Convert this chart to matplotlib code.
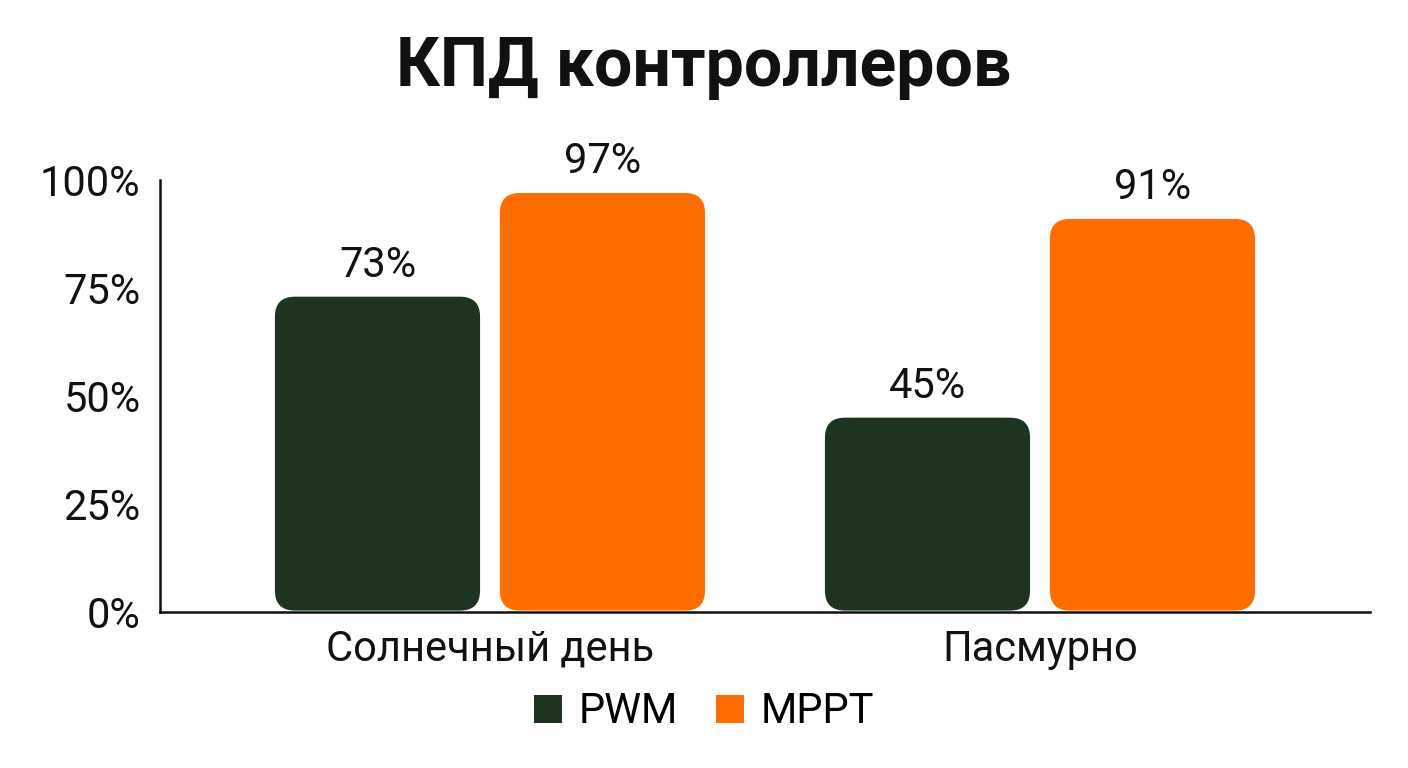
"""Controller efficiency bar chart"""

import matplotlib

matplotlib.use("Agg")
import matplotlib.pyplot as plt
from matplotlib.patches import FancyBboxPatch, Patch
import numpy as np

categories = ["Солнечный день", "Пасмурно"]
series_names = ["PWM", "MPPT"]
pwm_values = [73, 45]
mppt_values = [97, 91]
y_ticks = [0, 25, 50, 75, 100]
y_tick_labels = ["0%", "25%", "50%", "75%", "100%"]

colors = ["#1f3321", "#ff6d00"]

plt.rcParams["font.family"] = ["Roboto", "DejaVu Sans"]

fig = plt.figure(figsize=(14.08, 7.68), dpi=100)
ax = fig.add_axes([0.1136, 0.203, 0.8594, 0.5626])

x = np.arange(len(categories))
width = 0.373
offset = 0.2045

bars = []
for i, (vals, name) in enumerate(zip([pwm_values, mppt_values], series_names)):
    b = ax.bar(x + (i * 2 - 1) * offset, vals, width, color=colors[i], label=name)
    bars.append(b)

ax.set_xlim(-0.6, 1.6)
ax.set_ylim(0, 100)

# swap plain rectangles for rounded ones
x_per_px = 2.2 / 1210
y_per_px = 100 / 432
for b in bars:
    for rect in b:
        rect.set_visible(False)
        rx, ry = rect.get_x(), rect.get_y()
        w, h = rect.get_width(), rect.get_height()
        gap = 1.5 * y_per_px
        patch = FancyBboxPatch(
            (rx, ry + gap), w, h - gap,
            boxstyle=f"round,pad=0,rounding_size={20 * x_per_px}",
            mutation_aspect=y_per_px / x_per_px,
            facecolor=rect.get_facecolor(), edgecolor="none",
        )
        ax.add_patch(patch)
        ax.annotate(
            f"{int(h)}%", (rx + w / 2, h), xytext=(0, 8), textcoords="offset points",
            ha="center", va="bottom", fontsize=30, color="#111111",
        )

ax.set_yticks(y_ticks)
ax.set_yticklabels(y_tick_labels)
ax.set_xticks(x)
ax.set_xticklabels(categories)
ax.tick_params(axis="y", length=0, pad=14, labelsize=30)
ax.tick_params(axis="x", length=0, pad=12, labelsize=30)
for lbl in ax.get_xticklabels() + ax.get_yticklabels():
    lbl.set_color("#111111")

for side in ["top", "right"]:
    ax.spines[side].set_visible(False)
ax.spines["left"].set_linewidth(1.8)
ax.spines["bottom"].set_linewidth(1.8)
ax.spines["left"].set_color("#111111")
ax.spines["bottom"].set_color("#111111")

fig.text(0.5, 0.9115, "КПД контроллеров", ha="center", va="center",
         fontsize=49, fontweight="bold", color="#111111")

handles = [Patch(facecolor=c, edgecolor="none") for c in colors]
fig.legend(handles=handles, labels=series_names, loc="center",
           bbox_to_anchor=(0.5, 0.073), ncol=2, frameon=False, fontsize=30,
           handlelength=0.67, handleheight=0.67, handletextpad=0.4, columnspacing=0.9)

fig.savefig("out.png", dpi=100, facecolor="white")
